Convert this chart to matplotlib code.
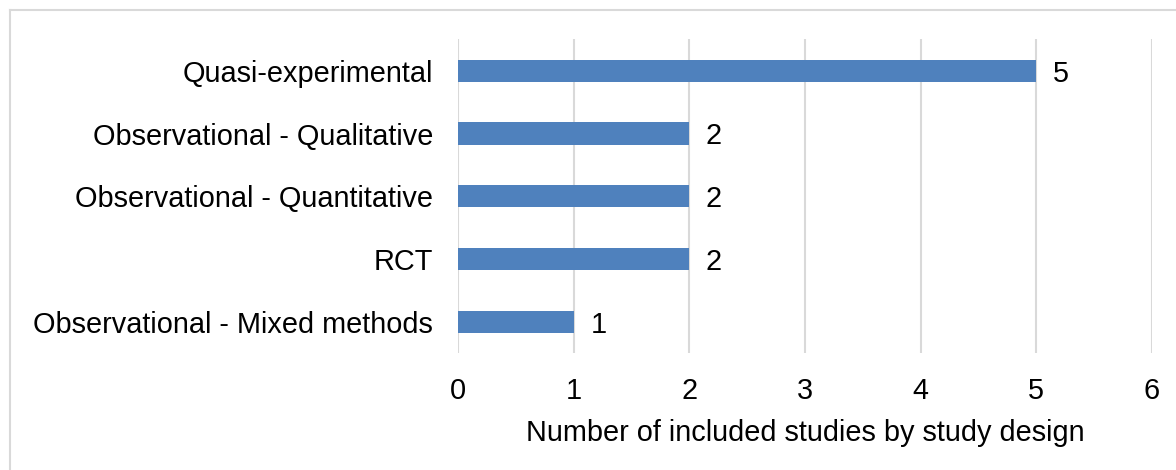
import matplotlib
matplotlib.use("Agg")
import matplotlib.pyplot as plt
from matplotlib.lines import Line2D

categories = ["Observational - Mixed methods", "RCT", "Observational - Quantitative",
              "Observational - Qualitative", "Quasi-experimental"]
values = [1, 2, 2, 2, 5]
xticks = [0, 1, 2, 3, 4, 5, 6]
xlabel = "Number of included studies by study design"

plt.rcParams['font.family'] = ['Liberation Sans', 'DejaVu Sans']

W, H = 1176, 470
FS = 20.8
fig = plt.figure(figsize=(W / 100, H / 100), dpi=100)
ax = fig.add_axes([458 / W, 1 - 353.3 / H, (1152 - 458) / W, (353.3 - 39.3) / H])

bar_color = "#4F81BD"
ax.barh(range(len(categories)), values, height=0.355, color=bar_color, zorder=3)
ax.set_ylim(-0.5, len(categories) - 0.5)
ax.set_xlim(xticks[0], xticks[-1])
ax.set_xticks(xticks)
ax.set_yticks(range(len(categories)))
ax.set_yticklabels(categories)
ax.grid(axis="x", color="#D9D9D9", linewidth=1.5, zorder=0)
for s in ax.spines.values():
    s.set_visible(False)
ax.tick_params(axis="both", length=0, labelsize=FS, colors="black")
ax.tick_params(axis="y", pad=18)
ax.tick_params(axis="x", pad=17)
ax.set_xlabel(xlabel, fontsize=FS, labelpad=10.5)

for i, v in enumerate(values):
    ax.annotate(str(v), (v, i), xytext=(12, 0), textcoords="offset points",
                va="center_baseline", ha="left", fontsize=FS)

# outer frame (left and top edges visible)
fig.add_artist(Line2D([9.5 / W, 9.5 / W], [0, 1 - 10 / H], transform=fig.transFigure,
                      color="#D9D9D9", linewidth=1.5))
fig.add_artist(Line2D([9.5 / W, 1], [1 - 10 / H, 1 - 10 / H], transform=fig.transFigure,
                      color="#D9D9D9", linewidth=1.5))

fig.savefig("out.png", dpi=100)
